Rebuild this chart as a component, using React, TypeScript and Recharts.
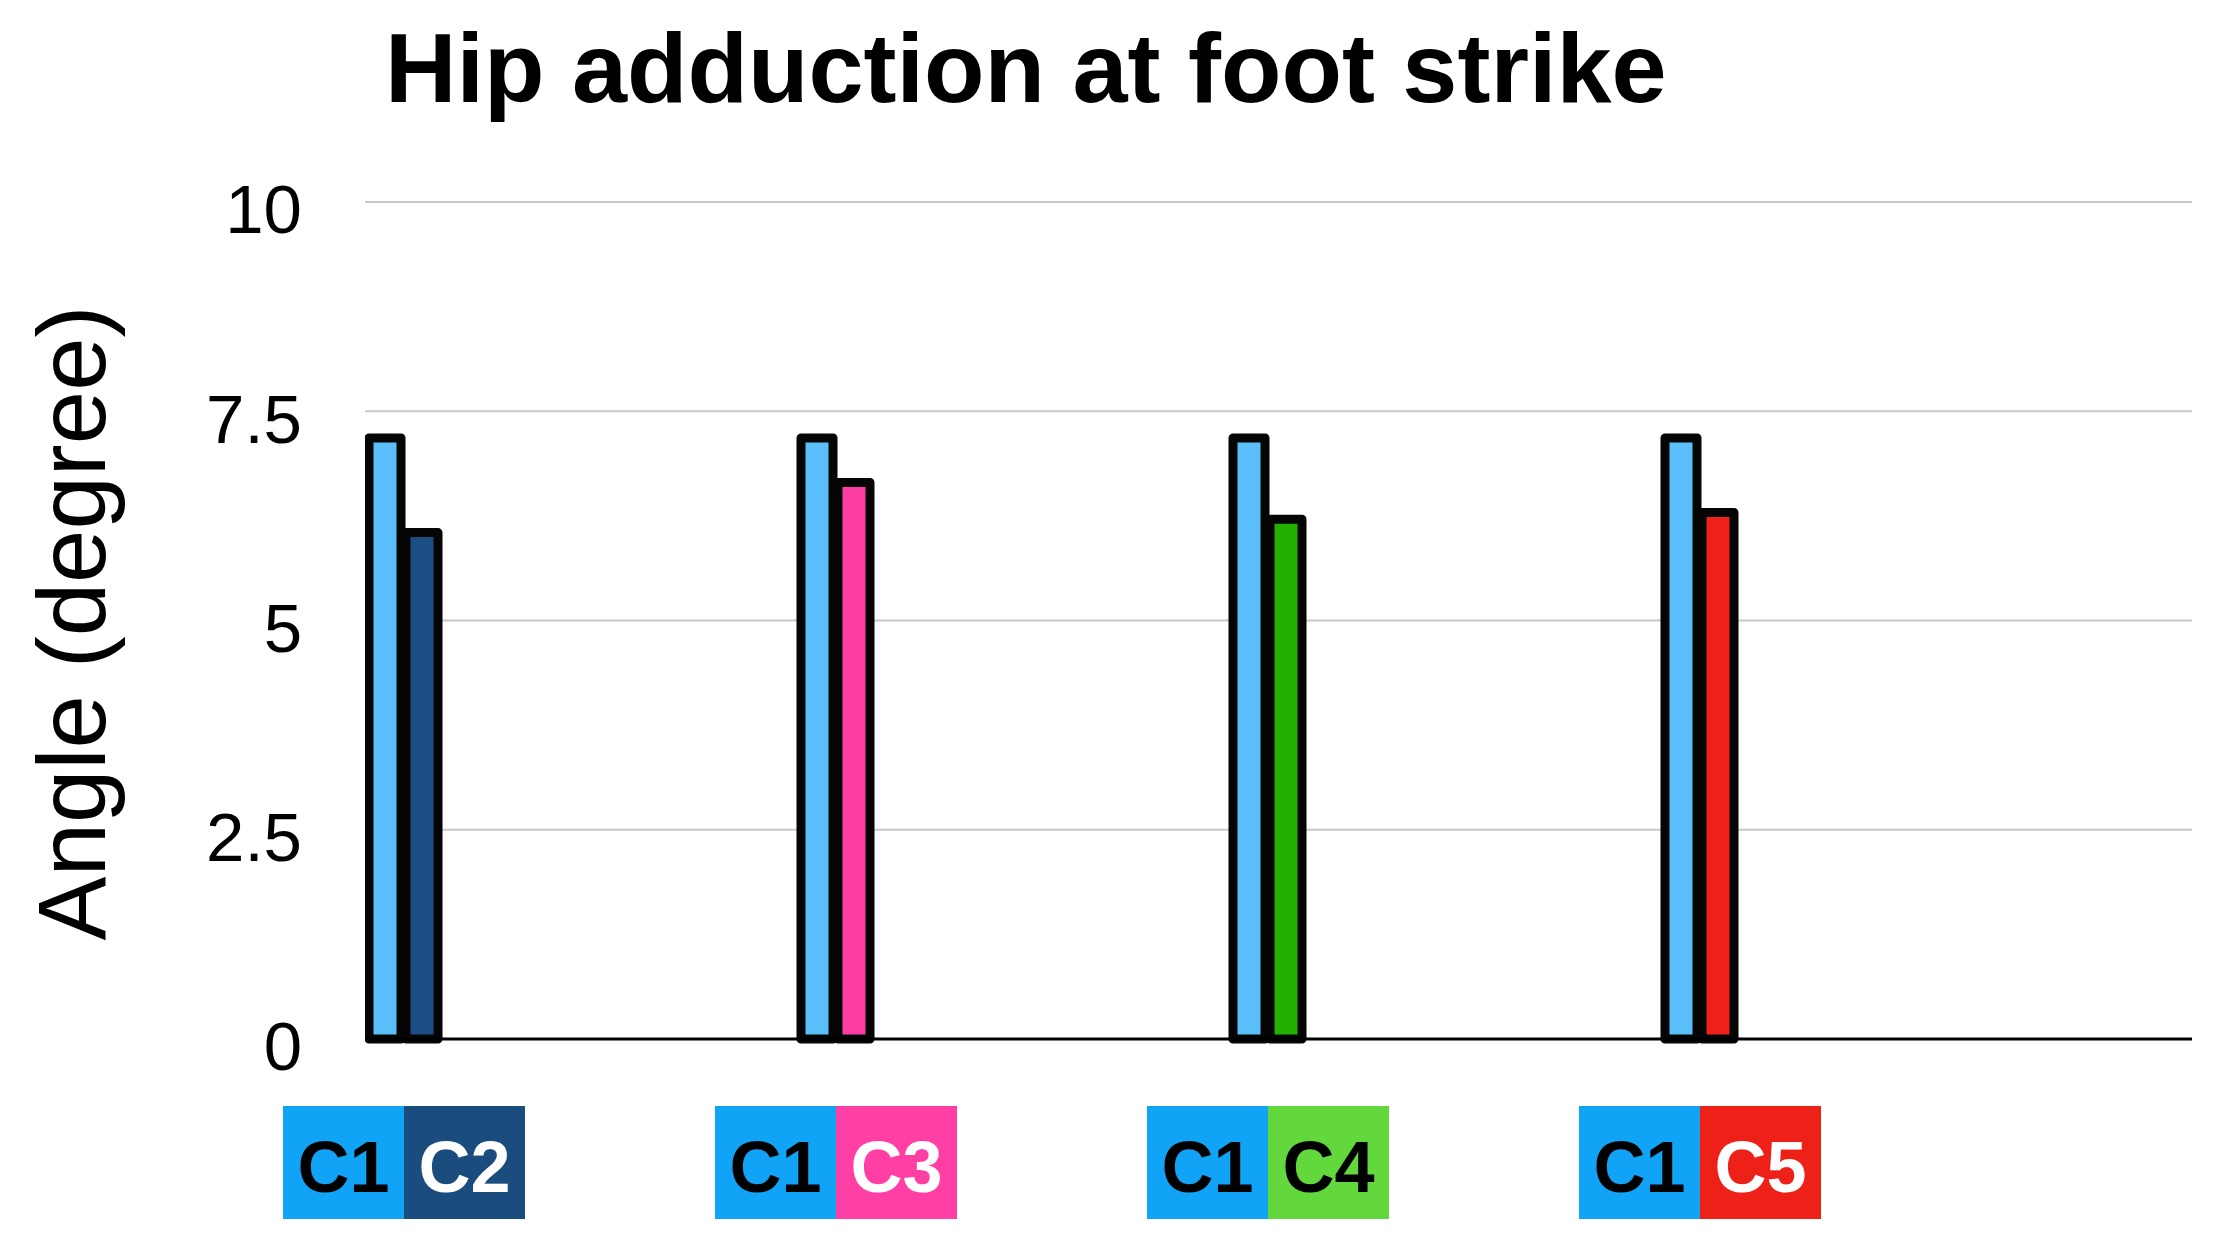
import React from 'react';
import { BarChart, Bar, XAxis, YAxis, CartesianGrid, Cell, Customized } from 'recharts';

// ---- data ----
const comparisonLabels = ['C2', 'C3', 'C4', 'C5'];
const referenceLabel = 'C1';
const referenceValues = [7.18, 7.18, 7.18, 7.18];
const comparisonValues = [6.05, 6.65, 6.21, 6.29];
const yTicks = [0, 2.5, 5, 7.5, 10];
const groupPositions = [0, 1, 2, 3];

const titleText = 'Hip adduction at foot strike';
const yAxisTitle = 'Angle (degree)';

// ---- styles ----
const referenceBarColor = '#5BBFF9';
const comparisonBarColors = ['#1B4F83', '#FF3EA5', '#23B000', '#EE221A'];
const referenceBoxColor = '#10A3F6';
const comparisonBoxColors = ['#1A4D7E', '#FF3FA4', '#62D83C', '#EE2119'];
const comparisonTextColors = ['#FFFFFF', '#FFFFFF', '#000000', '#FFFFFF'];
const FONT = '"Liberation Sans", Arial, Helvetica, sans-serif';

const data = groupPositions.map((x, i) => ({
  x,
  name: comparisonLabels[i],
  baseVal: referenceValues[i],
  compVal: comparisonValues[i],
}));

const XTick = (props: any) => {
  const { x, y, payload } = props;
  const i = Number(payload.value);
  const top = y + 67;
  const w = 121;
  const h = 113;
  return (
    <g>
      <rect x={x - w} y={top} width={w} height={h} fill={referenceBoxColor} />
      <rect x={x} y={top} width={w} height={h} fill={comparisonBoxColors[i]} />
      <text x={x - w / 2} y={top + 86} textAnchor="middle" fontSize={72} fontWeight="bold" fontFamily={FONT} fill="#000">
        {referenceLabel}
      </text>
      <text x={x + w / 2} y={top + 86} textAnchor="middle" fontSize={72} fontWeight="bold" fontFamily={FONT} fill={comparisonTextColors[i]}>
        {comparisonLabels[i]}
      </text>
    </g>
  );
};

const YTick = (props: any) => {
  const { x, y, payload } = props;
  return (
    <text x={x} y={y + 7} dy="0.355em" textAnchor="end" fontSize={69} fontFamily={FONT} fill="#000">
      {String(payload.value)}
    </text>
  );
};

const Titles = () => (
  <g>
    <text x={385} y={102} fontSize={99} fontWeight="bold" fontFamily={FONT} fill="#000">
      {titleText}
    </text>
    <text
      x={105}
      y={623}
      transform="rotate(-90 105 623)"
      textAnchor="middle"
      fontSize={96}
      fontFamily={FONT}
      fill="#000"
    >
      {yAxisTitle}
    </text>
  </g>
);

export default function App() {
  return (
    <div style={{ position: 'absolute', left: 0, top: 0, width: 2220, height: 1256, background: '#fff' }}>
      <BarChart
        width={2220}
        height={1256}
        data={data}
        margin={{ top: 202, right: 28, bottom: 17, left: 265 }}
        barGap={5}
      >
        <CartesianGrid vertical={false} stroke="#c8c8c8" strokeWidth={2} />
        <XAxis
          type="number"
          dataKey="x"
          domain={[-0.0903, 4.1389]}
          ticks={groupPositions}
          allowDataOverflow
          interval={0}
          axisLine={{ stroke: '#000', strokeWidth: 3 }}
          tickLine={false}
          tickSize={0}
          tickMargin={0}
          height={200}
          tick={(p: any) => <XTick {...p} />}
        />
        <YAxis
          type="number"
          domain={[0, 10]}
          ticks={yTicks}
          interval={0}
          axisLine={false}
          tickLine={false}
          tickSize={0}
          tickMargin={63}
          width={100}
          tick={(p: any) => <YTick {...p} />}
        />
        <Bar
          dataKey="baseVal"
          fill={referenceBarColor}
          stroke="#050505"
          strokeWidth={9}
          strokeLinejoin="round"
          barSize={32}
          isAnimationActive={false}
        />
        <Bar
          dataKey="compVal"
          stroke="#050505"
          strokeWidth={9}
          strokeLinejoin="round"
          barSize={32}
          isAnimationActive={false}
        >
          {data.map((d, i) => (
            <Cell key={d.name} fill={comparisonBarColors[i]} />
          ))}
        </Bar>
        <Customized component={Titles} />
      </BarChart>
    </div>
  );
}
